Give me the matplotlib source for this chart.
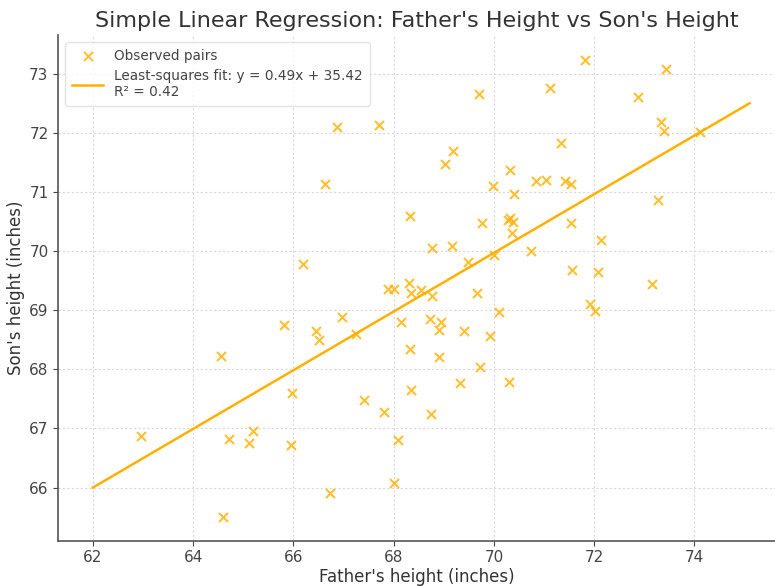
import numpy as np
import matplotlib
matplotlib.use("Agg")
import matplotlib.pyplot as plt

# Observed (father, son) heights, inches
father = [69.71, 66.86, 67.70, 69.19, 69.03, 66.63, 70.32, 69.98, 70.40, 68.33,
          69.76, 70.28, 70.39, 70.33, 71.82, 73.43, 71.11, 72.87, 73.33, 73.40,
          74.12, 71.33, 70.83, 71.03, 71.42, 71.53, 73.28, 71.54, 70.36, 68.76,
          69.16, 66.19, 69.48, 70.01, 67.89, 68.00, 68.31, 68.35, 68.54, 68.77,
          69.67, 70.10, 65.81, 66.97, 66.46, 66.52, 67.25, 68.14, 68.73, 68.94,
          68.91, 69.40, 69.92, 68.33, 68.91, 69.72, 65.97, 69.33, 70.31, 68.35,
          67.40, 67.81, 68.75, 72.13, 70.74, 71.55, 72.07, 73.15, 71.92, 72.01,
          64.55, 62.96, 64.72, 65.11, 65.20, 65.95, 64.60, 68.09, 68.00, 66.74]
son = [72.66, 72.11, 72.13, 71.70, 71.47, 71.13, 71.37, 71.11, 70.97, 70.60,
       70.48, 70.52, 70.50, 70.56, 73.24, 73.08, 72.77, 72.61, 72.19, 72.04,
       72.02, 71.84, 71.19, 71.21, 71.19, 71.14, 70.86, 70.47, 70.30, 70.06,
       70.09, 69.79, 69.81, 69.94, 69.36, 69.36, 69.47, 69.29, 69.35, 69.24,
       69.29, 68.97, 68.75, 68.89, 68.65, 68.50, 68.60, 68.80, 68.85, 68.81,
       68.67, 68.65, 68.57, 68.34, 68.21, 68.04, 67.60, 67.77, 67.78, 67.65,
       67.48, 67.28, 67.24, 70.19, 70.01, 69.68, 69.64, 69.44, 69.10, 68.99,
       68.22, 66.88, 66.82, 66.75, 66.96, 66.72, 65.50, 66.81, 66.07, 65.90]

# fitted line as drawn (end points)
fit_x = [62.0, 75.1]
slope = 0.4966
intercept = 35.21
fit_label = "Least-squares fit: y = 0.49x + 35.42\nR² = 0.42"

fig = plt.figure(figsize=(7.75, 5.86), dpi=100)
ax = fig.add_axes([0.0752, 0.0773, 0.925, 0.863])

ax.scatter(father, son, marker="x", s=42, linewidths=1.5, color="#FFB000",
           alpha=0.8, label="Observed pairs", zorder=3)
fx = np.array(fit_x)
ax.plot(fx, slope * fx + intercept, color="#FFB000", lw=1.8, label=fit_label, zorder=2)

ax.set_xlim(61.31, 75.61)
ax.set_ylim(65.10, 73.66)
ax.set_xticks([62, 64, 66, 68, 70, 72, 74])
ax.set_yticks([66, 67, 68, 69, 70, 71, 72, 73])

ax.grid(True, linestyle=(0, (2, 2)), color="#d9d9d9", linewidth=0.8)
ax.set_axisbelow(True)
for s in ["top", "right"]:
    ax.spines[s].set_visible(False)
for s in ["left", "bottom"]:
    ax.spines[s].set_color("#555555")
    ax.spines[s].set_linewidth(1.2)
ax.tick_params(labelsize=11, colors="#444444", labelcolor="#444444")

ax.set_title("Simple Linear Regression: Father's Height vs Son's Height",
             fontsize=16, color="#333333", pad=6)
ax.set_xlabel("Father's height (inches)", fontsize=12, color="#333333", labelpad=2)
ax.set_ylabel("Son's height (inches)", fontsize=12, color="#333333", labelpad=3)

leg = ax.legend(loc="upper left", fontsize=9.8, frameon=True, handlelength=2.3,
                borderpad=0.5, labelspacing=0.45)
leg.get_frame().set_edgecolor("#dddddd")
for t in leg.get_texts():
    t.set_color("#444444")

fig.savefig("out.png", dpi=100)
